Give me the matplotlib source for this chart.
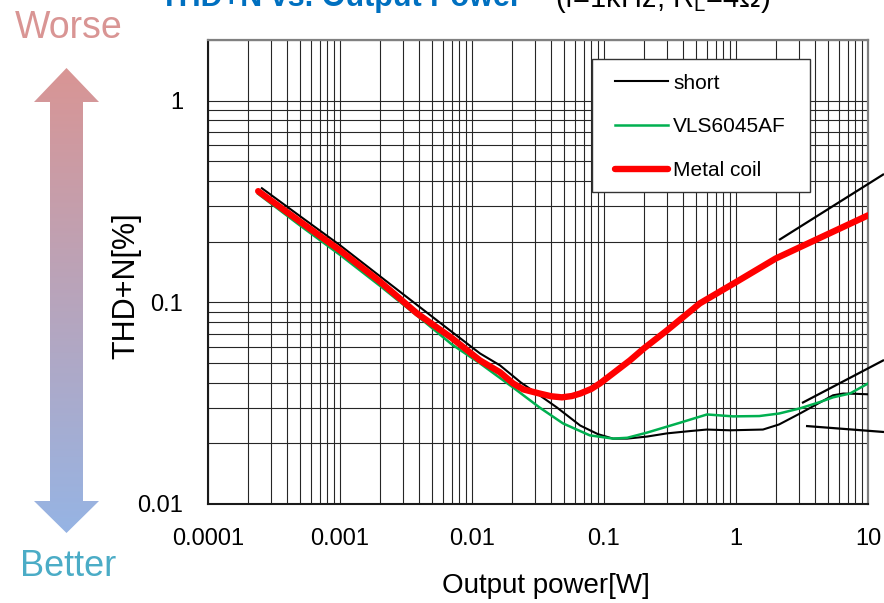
import numpy as np
import matplotlib
import matplotlib.pyplot as plt
from matplotlib.patches import Polygon, Rectangle
from matplotlib.ticker import FixedLocator, FixedFormatter, LogLocator, NullFormatter

plt.rcParams['font.family'] = ['Liberation Sans', 'DejaVu Sans']
plt.rcParams['mathtext.fontset'] = 'custom'
plt.rcParams['mathtext.rm'] = 'Liberation Sans'

# ---- measured THD+N curves (output power [W] -> THD+N [%]) ----
short_x = [2.56e-4, 5e-4, 1e-3, 2e-3, 4e-3, 7e-3, 0.0115, 0.0163, 0.0235, 0.0325,
           0.044, 0.066, 0.09, 0.117, 0.15, 0.212, 0.30, 0.45, 0.60, 0.90, 1.6,
           2.12, 3.05, 4.3, 5.43, 6.5, 8.0, 10.0]
short_y = [0.368, 0.267, 0.192, 0.135, 0.095, 0.0716, 0.0558, 0.0487, 0.040, 0.0346,
           0.0301, 0.0245, 0.0222, 0.0211, 0.0211, 0.0216, 0.0224, 0.0230, 0.0234, 0.0232, 0.0234,
           0.0248, 0.0281, 0.0318, 0.0346, 0.0353, 0.0352, 0.0350]

vls_x = [2.4e-4, 5e-4, 1e-3, 2e-3, 4e-3, 7e-3, 0.0115, 0.0205, 0.0325, 0.0489, 0.078,
         0.117, 0.15, 0.212, 0.377, 0.603, 0.95, 1.5, 2.12, 3.05, 4.3, 5.43, 7.3, 10.0]
vls_y = [0.345, 0.240, 0.172, 0.121, 0.084, 0.062, 0.0498, 0.0378, 0.0301, 0.0251, 0.0219,
         0.0211, 0.0213, 0.0226, 0.0253, 0.0278, 0.0272, 0.0273, 0.0281, 0.0298, 0.0320, 0.0338,
         0.0353, 0.0396]

metal_x = [2.4e-4, 5e-4, 1e-3, 2e-3, 3.83e-3, 7e-3, 0.0115, 0.0163, 0.0205, 0.0245, 0.0325,
           0.040, 0.048, 0.057, 0.066, 0.080, 0.093, 0.12, 0.157, 0.20, 0.30, 0.533, 1.0,
           2.0, 4.0, 10.0]
metal_y = [0.356, 0.251, 0.181, 0.127, 0.0882, 0.0667, 0.0515, 0.045, 0.0396, 0.0370, 0.0353,
           0.0342, 0.0338, 0.0343, 0.0353, 0.0372, 0.0396, 0.0450, 0.0515, 0.059, 0.0726, 0.0989,
           0.126, 0.165, 0.204, 0.270]

x_ticks = [1e-4, 1e-3, 1e-2, 1e-1, 1, 10]
x_tick_labels = ['0.0001', '0.001', '0.01', '0.1', '1', '10']
y_ticks = [0.01, 0.1, 1]
y_tick_labels = ['0.01', '0.1', '1']

W, H = 884, 603
fig = plt.figure(figsize=(W / 100, H / 100), dpi=100)

# ---- main log-log plot ----
ax = fig.add_axes([208 / W, 1 - 504 / H, 660 / W, 464 / H], zorder=1)
ax.set_xscale('log')
ax.set_yscale('log')
ax.set_xlim(1e-4, 10)
ax.set_ylim(0.01, 2)

ax.plot(short_x, short_y, color='black', lw=1.5, label='short', zorder=3)
ax.plot(vls_x, vls_y, color='#00B050', lw=1.8, label='VLS6045AF', zorder=4)
ax.plot(metal_x, metal_y, color='#FF0000', lw=4.6, solid_capstyle='round',
        solid_joinstyle='round', label='Metal coil', zorder=5)

ax.xaxis.set_major_locator(FixedLocator(x_ticks))
ax.xaxis.set_major_formatter(FixedFormatter(x_tick_labels))
ax.yaxis.set_major_locator(FixedLocator(y_ticks))
ax.yaxis.set_major_formatter(FixedFormatter(y_tick_labels))
for a in (ax.xaxis, ax.yaxis):
    a.set_minor_locator(LogLocator(base=10, subs=np.arange(2, 10)))
    a.set_minor_formatter(NullFormatter())
ax.grid(which='both', color='#262626', lw=0.8, zorder=0)
ax.set_axisbelow(True)
ax.tick_params(which='both', length=0, labelsize=17)
ax.tick_params(axis='x', pad=17)
ax.tick_params(axis='y', pad=18)

for side in ('left', 'bottom'):
    ax.spines[side].set_color('#1a1a1a')
    ax.spines[side].set_linewidth(1.5)
for side in ('top', 'right'):
    ax.spines[side].set_color('#808080')
    ax.spines[side].set_linewidth(1.6)

ax.set_xlabel('Output power[W]', fontsize=20)
ax.xaxis.set_label_coords(0.512, -0.148)
ax.set_ylabel('THD+N[%]', fontsize=22)
ax.yaxis.set_label_coords(-0.101, 0.470)

# legend box and entries
ax.add_patch(Rectangle((0.5818, 0.6724), 0.3303, 0.2866, transform=ax.transAxes,
                       facecolor='white', edgecolor='#333333', lw=1.0, zorder=6))
leg = ax.legend(loc='upper left', bbox_to_anchor=(0.617, 0.9275), frameon=False,
                borderpad=0, borderaxespad=0, handlelength=2.55, handletextpad=0.24,
                labelspacing=1.19, fontsize=15)
leg.set_zorder(7)

# ---- overlay in pixel coordinates: title, arrow, callouts ----
ov = fig.add_axes([0, 0, 1, 1], zorder=5)
ov.set_xlim(0, W)
ov.set_ylim(H, 0)
ov.axis('off')
ov.patch.set_alpha(0)

ov.text(160, 6, 'THD+N vs. Output Power', color='#0070C0', fontsize=22,
        fontweight='bold', va='baseline', ha='left')
ov.text(555, 7, '(f=1kHz, R$_\\mathrm{L}$=4Ω)', color='black', fontsize=21,
        va='baseline', ha='left')

ov.text(15, 38, 'Worse', color='#D99594', fontsize=27, va='baseline', ha='left')
ov.text(20, 576, 'Better', color='#4BACC6', fontsize=26, va='baseline', ha='left')

arrow_pts = [(66.5, 68), (99, 102), (83, 102), (83, 501), (99, 501), (66.5, 533),
             (34, 501), (50, 501), (50, 102), (34, 102)]
arrow = Polygon(arrow_pts, closed=True, facecolor='none', edgecolor='none')
ov.add_patch(arrow)
top_c = np.array([217, 149, 148]) / 255
bot_c = np.array([150, 180, 228]) / 255
t = np.linspace(0, 1, 256)[:, None]
grad = (top_c[None, :] * (1 - t) + bot_c[None, :] * t)[:, None, :]
im = ov.imshow(grad, extent=(34, 99, 533, 68), origin='upper', aspect='auto',
               interpolation='bilinear')
im.set_clip_path(arrow)
ov.set_xlim(0, W)
ov.set_ylim(H, 0)

for (x0, y0), (x1, y1) in [((779, 240), (884, 174)),
                           ((802, 403), (884, 360)),
                           ((806, 426), (884, 432))]:
    ov.plot([x0, x1], [y0, y1], color='black', lw=1.6, solid_capstyle='butt',
            clip_on=False)

fig.savefig('out.png', dpi=100)
